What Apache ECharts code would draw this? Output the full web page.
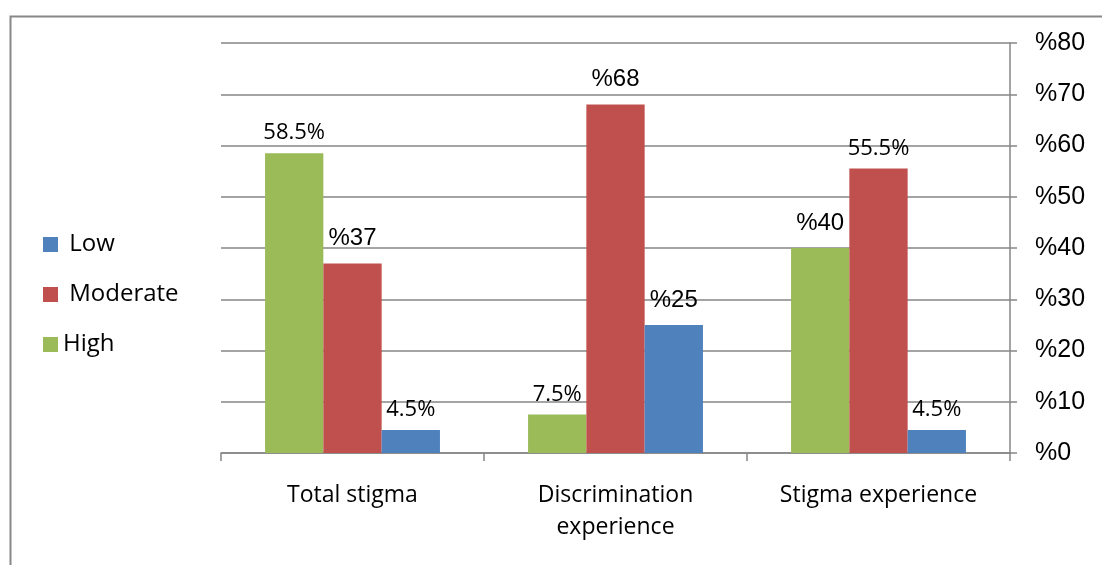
<!DOCTYPE html>
<html>
<head>
<meta charset="utf-8">
<script src="https://cdn.jsdelivr.net/npm/echarts@6/dist/echarts.min.js"></script>
<style>html,body{margin:0;padding:0;background:#fff}#c{width:1102px;height:565px}</style>
</head>
<body>
<div id="c"></div>
<script>
const categories = ['Total stigma', 'Discrimination\nexperience', 'Stigma experience'];
const highValues = [58.5, 7.5, 40];
const moderateValues = [37, 68, 55.5];
const lowValues = [4.5, 25, 4.5];
const highLabels = ['58.5%', '7.5%', '%40'];
const moderateLabels = ['%37', '%68', '55.5%'];
const lowLabels = ['4.5%', '%25', '4.5%'];
const yTicks = [0, 10, 20, 30, 40, 50, 60, 70, 80];

function items(vals, labels) {
  return vals.map((v, i) => {
    const pct = labels[i].startsWith('%');
    return {
      value: v,
      label: {
        formatter: labels[i],
        fontFamily: pct ? 'Liberation Sans' : 'Open Sans',
        fontSize: pct ? 24 : 22,
        distance: pct ? 13 : 9
      }
    };
  });
}

const chart = echarts.init(document.getElementById('c'));
const gray = '#868686';
const labelBase = { show: true, position: 'top', color: '#000' };
chart.setOption({
  animation: false,
  graphic: [{
    type: 'rect', left: 8, top: 14,
    shape: { width: 1300, height: 700 },
    style: { fill: 'none', stroke: '#888', lineWidth: 2 }
  }],
  legend: {
    orient: 'vertical', left: 38, top: 223,
    icon: 'rect', itemWidth: 15, itemHeight: 15, itemGap: 17,
    formatter: n => n === 'High' ? n : ' ' + n,
    textStyle: { fontSize: 24, fontFamily: 'Open Sans', color: '#000', lineHeight: 33 },
    data: ['Low', 'Moderate', 'High']
  },
  grid: { left: 221, right: 92, top: 43, bottom: 112, containLabel: false },
  xAxis: {
    type: 'category', data: categories,
    axisLine: { lineStyle: { color: gray, width: 1.5 } },
    axisTick: { show: true, length: 8, lineStyle: { color: gray, width: 1.5 } },
    axisLabel: { fontSize: 23, fontFamily: 'Open Sans', color: '#000', margin: 26, lineHeight: 32 }
  },
  yAxis: {
    type: 'value', position: 'right', min: 0, max: 80, interval: 10,
    axisLine: { show: true, lineStyle: { color: gray, width: 1.5 } },
    axisTick: { show: true, length: 7, lineStyle: { color: gray, width: 1.5 } },
    splitLine: { lineStyle: { color: gray, width: 1.5 } },
    axisLabel: {
      fontSize: 25, fontFamily: 'Liberation Sans', color: '#000', margin: 25,
      formatter: v => yTicks.includes(v) ? '%' + v : ''
    }
  },
  series: [
    { name: 'High', type: 'bar', data: items(highValues, highLabels), itemStyle: { color: '#9BBB59' }, barGap: '0%', barCategoryGap: '33.5%', label: labelBase },
    { name: 'Moderate', type: 'bar', data: items(moderateValues, moderateLabels), itemStyle: { color: '#C0504D' }, barGap: '0%', barCategoryGap: '33.5%', label: labelBase },
    { name: 'Low', type: 'bar', data: items(lowValues, lowLabels), itemStyle: { color: '#4F81BD' }, barGap: '0%', barCategoryGap: '33.5%', label: labelBase }
  ]
});
</script>
</body>
</html>
